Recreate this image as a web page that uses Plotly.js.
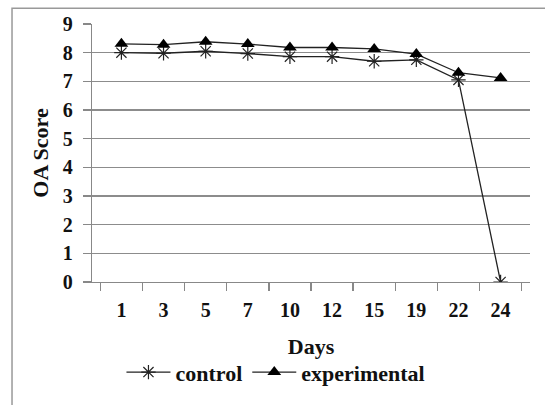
<!DOCTYPE html>
<html>
<head>
<meta charset="utf-8">
<script src="https://cdn.plot.ly/plotly-3.0.1.min.js"></script>
<style>
html,body{margin:0;padding:0;background:#fff;}
#chart{width:545px;height:405px;}
</style>
</head>
<body>
<div id="chart"></div>
<script>
var days = ['1','3','5','7','10','12','15','19','22','24'];
var control = [8.0, 7.98, 8.05, 7.97, 7.86, 7.86, 7.7, 7.75, 7.05, 0];
var experimental = [8.31, 8.28, 8.38, 8.3, 8.18, 8.18, 8.13, 7.95, 7.3, 7.12];

function bold(sz) {
  return {family: 'Liberation Serif, Times New Roman, serif', size: sz, color: '#111', weight: 'bold'};
}

var traces = [
  {
    x: days, y: control, name: 'control', type: 'scatter', mode: 'lines+markers',
    line: {color: '#222', width: 1.3},
    marker: {symbol: 'asterisk-open', size: 12, color: '#222', line: {color: '#222', width: 1.2}}
  },
  {
    x: days, y: experimental, name: 'experimental', type: 'scatter', mode: 'lines+markers',
    line: {color: '#222', width: 1.3},
    marker: {symbol: 'triangle-up', size: 12, color: '#000'}
  }
];

var layout = {
  width: 545, height: 405,
  margin: {l: 92, r: 15, t: 24, b: 121},
  paper_bgcolor: '#fff', plot_bgcolor: '#fff',
  font: bold(20),
  showlegend: true,
  legend: {orientation: 'h', x: 0.42, xanchor: 'center', y: -0.35, yanchor: 'middle',
           font: bold(22), itemwidth: 44, tracegroupgap: 0},
  xaxis: {
    type: 'category', tickson: 'boundaries', ticks: 'outside', ticklen: 8, tickcolor: '#888', tickwidth: 1.3,
    showline: true, linecolor: '#888', linewidth: 1.3, showgrid: false, zeroline: false,
    tickfont: bold(20), ticklabelstandoff: 10,
    title: {text: 'Days', font: bold(22), standoff: 18}
  },
  yaxis: {
    range: [0, 9], dtick: 1, ticks: 'outside', ticklen: 8, tickcolor: '#888', tickwidth: 1.3,
    showline: true, linecolor: '#888', linewidth: 1.3, showgrid: true, gridcolor: '#8c8c8c', gridwidth: 1.3,
    zeroline: false, tickfont: bold(20), ticklabelstandoff: 6,
    title: {text: 'OA Score', font: bold(22), standoff: 8}
  },
  shapes: [{
    type: 'rect', xref: 'paper', yref: 'paper',
    x0: -0.1826, x1: 1.2, y0: -0.6, y1: 1.0615,
    line: {color: '#999', width: 1.5}, fillcolor: 'rgba(0,0,0,0)', layer: 'below'
  }]
};

Plotly.newPlot('chart', traces, layout, {displayModeBar: false, staticPlot: true});
</script>
</body>
</html>
